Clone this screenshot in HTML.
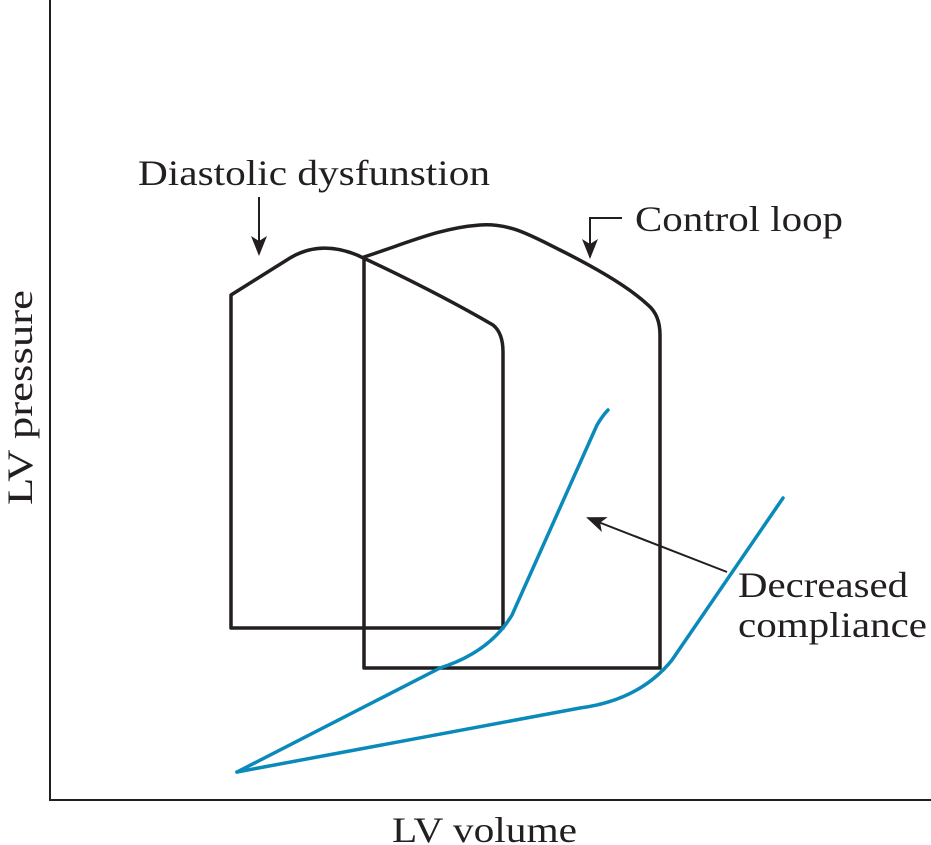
<!DOCTYPE html>
<html><head><style>body{margin:0;background:#fff}svg{display:block}text{font-family:"Liberation Serif",serif;fill:#231f20}</style></head>
<body>
<svg width="931" height="845" viewBox="0 0 931 845" xmlns="http://www.w3.org/2000/svg">
<defs>
<marker id="b" markerWidth="20" markerHeight="16" refX="18" refY="8" orient="auto" markerUnits="userSpaceOnUse" viewBox="0 0 20 16"><path d="M0,0 L20,8 L0,16 L5,8Z" fill="#231f20"/></marker></defs>
<path d="M50,0 L50,800 L931,800" fill="none" stroke="#231f20" stroke-width="2"/>
<g fill="none" stroke="#231f20" stroke-width="3.5" stroke-linejoin="round">
<path d="M231,628 L231,295 L290,258 Q320,240 357,255 C400,275 450,300 493,325 Q503,333 503,352 L503,628 Z"/>
<path d="M364,668 L364,257 C410,242 440,228 480,225 C510,223 530,235 560,250 C600,270 630,288 648,305 Q660,315 660,335 L660,668 Z"/>
</g>
<g fill="none" stroke="#0a8abb" stroke-width="3.5" stroke-linecap="round" stroke-linejoin="round">
<path d="M237,772 L440,668 Q490,652 512,615 L597,425 Q603,415 608,410"/>
<path d="M237,772 L580,708 Q640,700 672,660 L783,498"/>
</g>
<g fill="none" stroke="#231f20" stroke-width="2">
<path d="M259,197 L259,254" marker-end="url(#b)"/>
<path d="M622,218 L590,218 L590,257" marker-end="url(#b)"/>
<path d="M727,572 L588,518" marker-end="url(#b)"/>
</g>
<g font-size="36">
<text x="138" y="185" textLength="352" lengthAdjust="spacingAndGlyphs">Diastolic dysfunstion</text>
<text x="635" y="231" textLength="208" lengthAdjust="spacingAndGlyphs">Control loop</text>
<text x="738" y="597" textLength="170" lengthAdjust="spacingAndGlyphs">Decreased</text>
<text x="738" y="637" textLength="189" lengthAdjust="spacingAndGlyphs">compliance</text>
<text x="392" y="842" textLength="185" lengthAdjust="spacingAndGlyphs">LV volume</text>
<text transform="translate(32,505) rotate(-90)" textLength="215" lengthAdjust="spacingAndGlyphs">LV pressure</text>
</g>
</svg>
</body></html>
